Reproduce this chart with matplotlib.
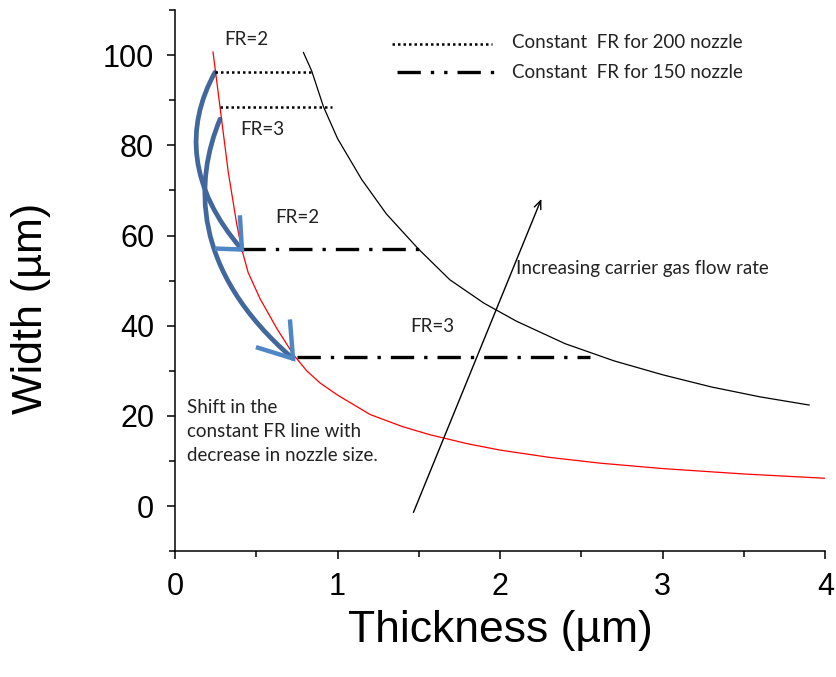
import matplotlib
matplotlib.use("Agg")
import matplotlib.pyplot as plt
from matplotlib.path import Path
from matplotlib.patches import PathPatch
from matplotlib.ticker import MultipleLocator

plt.rcParams["font.family"] = ["Liberation Sans", "DejaVu Sans"]

# red curve: 150 nozzle width vs thickness
red_x = [0.234, 0.277, 0.328, 0.38, 0.41, 0.45, 0.523, 0.626, 0.728, 0.81, 0.892, 1.0,
         1.2, 1.4, 1.569, 1.8, 2.0, 2.3, 2.615, 3.0, 3.5, 4.0]
red_y = [100.7, 88.5, 74, 62.5, 57.1, 51.8, 46.0, 39.4, 33.6, 30.0, 27.3, 24.6,
         20.3, 17.6, 15.8, 13.8, 12.4, 10.8, 9.5, 8.3, 7.1, 6.15]

# black curve: 200 nozzle
blk_x = [0.79, 0.841, 0.913, 1.0, 1.149, 1.3, 1.495, 1.69, 1.9, 2.1, 2.4, 2.7,
         3.0, 3.3, 3.6, 3.9]
blk_y = [100.6, 96.5, 88.6, 81.5, 72.4, 64.8, 57.1, 50.2, 45, 41, 36, 32.2,
         29.1, 26.4, 24.2, 22.4]

# constant FR lines
dot_y = [96.2, 88.6]
dot_x0 = [0.246, 0.277]
dot_x1 = [0.85, 0.966]
dash_y = [57.1, 33.1]
dash_x0 = [0.41, 0.75]
dash_x1 = [1.52, 2.55]

fr_labels = ["FR=2", "FR=3", "FR=2", "FR=3"]
fr_pos = [(0.44, 103.5), (0.54, 83.6), (0.75, 64), (1.58, 39.8)]

# blue shift arrows (bezier control points) and their heads
shift_paths = [
    [(0.246, 96.2), (0.06, 84.0), (0.085, 70.5), (0.412, 56.9)],
    [(0.277, 85.8), (0.123, 72.4), (0.092, 52.4), (0.726, 32.7)],
]
shift_heads = [
    [(0.40, 64.0), (0.412, 56.9), (0.258, 57.1)],
    [(0.708, 40.9), (0.726, 32.7), (0.511, 35.1)],
]

SHAFT = "#41679c"
HEAD = "#4f86c6"
NOTE_FONT = ["Lato", "DejaVu Sans"]
NOTE_SIZE = 13.5
NOTE_COLOR = "#222222"

fig = plt.figure(figsize=(8.36, 6.77), dpi=100)
ax = fig.add_axes([0.2093, 0.186, 0.778, 0.799])

ax.plot(red_x, red_y, color="red", lw=0.9)
ax.plot(blk_x, blk_y, color="black", lw=0.9)

for y, a, b in zip(dot_y, dot_x0, dot_x1):
    ax.plot([a, b], [y, y], color="black", lw=1.8, linestyle=(0, (1, 1.2)))
for y, a, b in zip(dash_y, dash_x0, dash_x1):
    ax.plot([a, b], [y, y], color="black", lw=2.4, linestyle=(0, (7, 3, 1, 3)))

# legend-ish keys at the top
ax.plot([1.335, 1.95], [102.4, 102.4], color="black", lw=1.8, linestyle=(0, (1, 1.2)))
ax.plot([1.366, 1.99], [96.2, 96.2], color="black", lw=2.4, linestyle=(0, (7, 3, 1, 3, 1, 3)))
ax.text(2.074, 102.9, "Constant  FR for 200 nozzle", family=NOTE_FONT, fontsize=NOTE_SIZE,
        va="center", color=NOTE_COLOR)
ax.text(2.074, 96.2, "Constant  FR for 150 nozzle", family=NOTE_FONT, fontsize=NOTE_SIZE,
        va="center", color=NOTE_COLOR)

for lab, (x, y) in zip(fr_labels, fr_pos):
    ax.text(x, y, lab, family=NOTE_FONT, fontsize=NOTE_SIZE, ha="center", va="center",
            color=NOTE_COLOR)

for pts, head in zip(shift_paths, shift_heads):
    p = Path(pts, [Path.MOVETO, Path.CURVE4, Path.CURVE4, Path.CURVE4])
    ax.add_patch(PathPatch(p, facecolor="none", edgecolor=SHAFT, lw=3.4, capstyle="round"))
    hx, hy = zip(*head)
    ax.plot(hx, hy, color=HEAD, lw=3.2, solid_joinstyle="miter")

ax.annotate("", xy=(2.26, 68.7), xytext=(1.46, -2),
            arrowprops=dict(arrowstyle="->,head_length=0.6,head_width=0.25", color="black", lw=1))
ax.text(2.1, 52.7, "Increasing carrier gas flow rate", family=NOTE_FONT, fontsize=NOTE_SIZE,
        va="center", color=NOTE_COLOR)
ax.text(0.074, 23.8, "Shift in the\nconstant FR line with\ndecrease in nozzle size.",
        family=NOTE_FONT, fontsize=NOTE_SIZE, va="top", color=NOTE_COLOR, linespacing=1.5)

ax.set_xlim(0, 4)
ax.set_ylim(-10, 110)
ax.xaxis.set_major_locator(MultipleLocator(1))
ax.xaxis.set_minor_locator(MultipleLocator(0.5))
ax.yaxis.set_minor_locator(MultipleLocator(10))
ax.set_yticks([0, 20, 40, 60, 80, 100])
ax.spines["top"].set_visible(False)
ax.spines["right"].set_visible(False)
for s in ["left", "bottom"]:
    ax.spines[s].set_linewidth(1.1)
ax.tick_params(which="major", direction="out", length=6, width=1.1, labelsize=22, pad=9)
ax.tick_params(which="minor", direction="out", length=4, width=1.1)

ax.set_xlabel("Thickness (µm)", fontsize=32, labelpad=6)
ax.set_ylabel("Width (µm)", fontsize=31, va="center")
ax.yaxis.set_label_coords(-0.2215, 0.449)

fig.savefig("out.png", dpi=100)
